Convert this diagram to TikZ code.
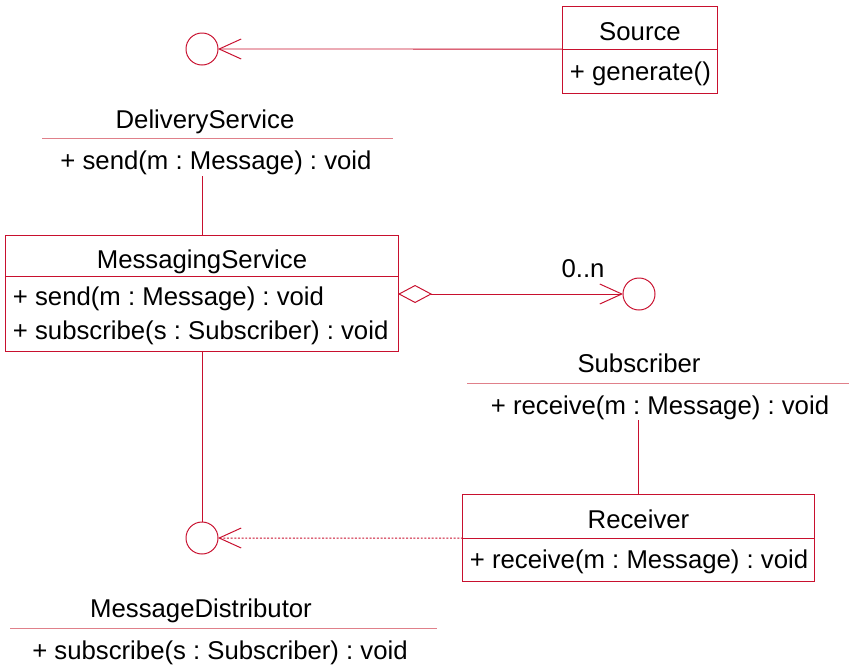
\documentclass[tikz,border=0pt]{standalone}
\usepackage{fontspec}
\setmainfont{Liberation Sans}
\usepackage{xcolor}
\usetikzlibrary{arrows.meta,positioning}
\definecolor{umlred}{RGB}{200,16,46}
\definecolor{seppink}{RGB}{224,128,138}
\frenchspacing

\begin{document}
\begin{tikzpicture}[x=0.025cm,y=-0.025cm,line width=0.7pt,
  every node/.style={font=\fontsize{18.3}{24.2}\selectfont,outer sep=0pt},
  lbl/.style={text height=0.55cm,text depth=0.1cm,inner sep=0pt},
  clshead/.style={draw=umlred,inner sep=0pt,text height=0.7cm,text depth=0.075cm},
  clsops/.style={draw=umlred,align=flush left,inner xsep=0.175cm,inner ysep=0pt},
  iface/.style={draw=umlred,circle,minimum size=0.8cm,inner sep=0pt},
  sepline/.style={seppink,line width=0.6pt},
  realize/.style={umlred,-{Straight Barb[length=0.55cm,width=0.5cm]}}]
  \useasboundingbox (0,0) rectangle (849,666);
  % Classes
  \node[clshead,minimum width=3.85cm,minimum height=1.075cm] (src) at (640,27.5) {Source};
  \node[clsops,lbl,inner xsep=0.175cm,text width=3.5cm,minimum height=1.1cm,below=0pt of src] (srcops)
    {\mbox{+ generate()}};
  \node[clshead,minimum width=9.8cm,minimum height=1.025cm] (ms) at (202,255.5) {MessagingService};
  \node[clsops,text width=9.45cm,text height=0.6cm,minimum height=1.875cm,below=0pt of ms] (msops)
    {\mbox{+ send(m : Message) : void}\\\mbox{+ subscribe(s : Subscriber) : void}};
  \node[clshead,minimum width=8.775cm,minimum height=1.1cm] (rcv) at (638.5,516) {Receiver};
  \node[clsops,lbl,inner xsep=0.175cm,text width=8.425cm,minimum height=1.075cm,below=0pt of rcv] (rcvops)
    {\mbox{+ receive(m : Message) : void}};
  % Interfaces
  \node[iface] (dsi) at (202,49) {};
  \node[lbl] (dsname) at (205,119) {DeliveryService};
  \draw[sepline] (42,138) -- (393,138);
  \node[lbl] (dsops) at (216,160) {+ send(m : Message) : void};
  \node[iface] (subi) at (639,294) {};
  \node[lbl] (subname) at (639,363) {Subscriber};
  \draw[sepline] (467,383) -- (849,383);
  \node[lbl] (subops) at (660,405) {+ receive(m : Message) : void};
  \node[iface] (mdi) at (202,538) {};
  \node[lbl] (mdname) at (201,608) {MessageDistributor};
  \draw[sepline] (10,628) -- (437,628);
  \node[lbl] (mdops) at (220,650) {+ subscribe(s : Subscriber) : void};
  % Connectors
  \draw[realize] (src.south west) -- (dsi.east);
  \draw[umlred] (ms.north) -- (ms.north |- 0,176);
  \draw[umlred,{Diamond[open,length=0.85cm,width=0.45cm]}-{Straight Barb[length=0.55cm,width=0.5cm]}]
    (msops.east |- subi.west) -- (subi.west);
  \node[lbl] (mult) at (583,268) {0..n};
  \draw[umlred] (rcv.north) -- (rcv.north |- 0,420);
  \draw[umlred] (msops.south) -- (mdi.north);
  \draw[realize,dash pattern=on 1.4pt off 1.2pt] (rcv.south west) -- (mdi.east);
\end{tikzpicture}
\end{document}
